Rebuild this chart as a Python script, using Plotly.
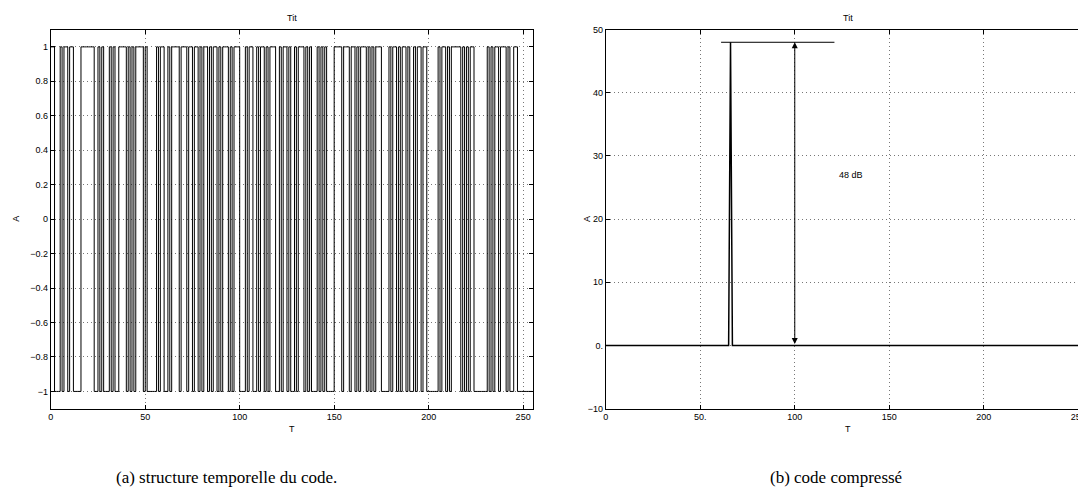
import plotly.graph_objects as go

# ---- data ----
# (a) binary code: run lengths of alternating levels, starting at +1
code_start = 1
code_runs = [2, 3, 1, 1, 2, 1, 2, 4, 7, 2, 1, 1, 1, 3, 1, 1, 1, 2, 4, 1, 1, 1, 1, 1, 4, 1, 1, 5,
             1, 1, 2, 2, 1, 1, 4, 1, 3, 1, 2, 1, 2, 1, 1, 1, 2, 1, 1, 1, 2, 1, 1, 1, 3, 1, 1, 1,
             3, 3, 1, 1, 2, 2, 1, 1, 2, 1, 1, 1, 3, 2, 1, 1, 2, 1, 1, 2, 1, 1, 3, 1, 1, 1, 1, 3,
             1, 1, 1, 1, 1, 4, 4, 1, 3, 1, 2, 1, 1, 1, 3, 1, 1, 1, 1, 1, 3, 4, 1, 1, 2, 1, 1, 1,
             2, 1, 1, 2, 1, 1, 2, 1, 2, 6, 1, 1, 2, 1, 1, 1, 5, 1, 1, 1, 1, 1, 2, 7, 1, 1, 1, 1,
             2, 1, 3, 1, 1, 2, 2, 8]

# (b) compressed code
comp_t = [0, 65, 66, 67, 255]
comp_a = [0, 0, 48, 0, 0]

left_xticks = [0, 50, 100, 150, 200, 250]
left_yticks = [-1, -0.8, -0.6, -0.4, -0.2, 0, 0.2, 0.4, 0.6, 0.8, 1]
right_xticks = [0, 50, 100, 150, 200, 250]
right_xtext = ["0", "50.", "100", "150", "200", "250"]
right_yticks = [-10, 0, 10, 20, 30, 40, 50]
right_ytext = ["\u221210", "0.", "10", "20", "30", "40", "50"]

peak_db = 48
arrow_t = 100
hline_t = [61, 121]

# expand run lengths into chips
chips = []
lvl = code_start
for r in code_runs:
    chips += [lvl] * r
    lvl = -lvl
code_t = list(range(len(chips) + 1))
code_a = chips + [chips[-1]]

fig = go.Figure()
fig.add_trace(go.Scatter(x=code_t, y=code_a, mode="lines", line=dict(color="black", width=1, shape="hv"),
                         xaxis="x", yaxis="y", showlegend=False, hoverinfo="skip"))
fig.add_trace(go.Scatter(x=comp_t, y=comp_a, mode="lines", line=dict(color="black", width=1.5),
                         xaxis="x2", yaxis="y2", showlegend=False, hoverinfo="skip"))
fig.add_trace(go.Scatter(x=hline_t, y=[peak_db, peak_db], mode="lines", line=dict(color="black", width=1),
                         xaxis="x2", yaxis="y2", showlegend=False, hoverinfo="skip"))

# the page body has an 8px margin: design in page coordinates, then shift
OFF = 8
W, H = 1086 - OFF, 500 - 2 * OFF


def px(v):
    return (v - OFF) / W


def py(v):
    return 1 - (v - OFF) / H


L1, R1 = 48, 533
L2 = 606.7
ppu = (R1 - L1) / 255.0
R2 = 1086
top, bot = 25, 412

font_ax = dict(family="Liberation Sans, Arial, sans-serif", size=9, color="black")
common = dict(showline=True, linecolor="black", linewidth=1, mirror="ticks", ticks="inside", ticklen=4,
              tickcolor="black", showgrid=True, gridcolor="#777777", griddash="1px,3px", gridwidth=1,
              zeroline=False, tickfont=font_ax, ticklabeloverflow="allow")

fig.update_layout(
    width=W, height=H, margin=dict(l=0, r=0, t=0, b=0),
    plot_bgcolor="white", paper_bgcolor="white",
    xaxis=dict(domain=[px(L1), px(R1)], range=[0, 255], tickvals=left_xticks, anchor="y", **common),
    yaxis=dict(domain=[py(bot), py(top)], range=[-1.1, 1.1], tickvals=left_yticks, anchor="x", **common),
    xaxis2=dict(domain=[px(L2), 1.0], range=[0, (R2 - L2) / ppu], tickvals=right_xticks,
                ticktext=right_xtext, anchor="y2", **common),
    yaxis2=dict(domain=[py(bot), py(top)], range=[-10, 50], tickvals=right_yticks,
                ticktext=right_ytext, anchor="x2", **common),
)

ann = []
for cx in [(L1 + R1) / 2, 850]:
    ann.append(dict(text="Tit", x=px(cx), y=py(13), xref="paper", yref="paper", showarrow=False,
                    font=font_ax, xanchor="center", yanchor="middle"))
    ann.append(dict(text="T", x=px(cx), y=py(433), xref="paper", yref="paper", showarrow=False,
                    font=font_ax, xanchor="center", yanchor="middle"))
for ax_x in [13, 587]:
    ann.append(dict(text="A", x=px(ax_x), y=py(218), xref="paper", yref="paper", showarrow=False,
                    font=font_ax, textangle=-90, xanchor="center", yanchor="middle"))
# double arrow
ann.append(dict(text="", x=arrow_t, y=peak_db, ax=arrow_t, ay=0, xref="x2", yref="y2", axref="x2", ayref="y2",
                showarrow=True, arrowhead=2, startarrowhead=2, arrowside="end+start", arrowsize=1.2,
                arrowwidth=1, arrowcolor="black"))
ann.append(dict(text="48 dB", x=130, y=27, xref="x2", yref="y2", showarrow=False, font=font_ax))
# captions
cap_font = dict(family="Liberation Serif, Times New Roman, serif", size=17, color="black")
ann.append(dict(text="(a) structure temporelle du code.", x=px(225), y=py(482), xref="paper", yref="paper",
                showarrow=False, font=cap_font, xanchor="center", yanchor="middle"))
ann.append(dict(text="(b) code compressé", x=px(838), y=py(482), xref="paper", yref="paper",
                showarrow=False, font=cap_font, xanchor="center", yanchor="middle"))
fig.update_layout(annotations=ann)

fig.write_html("out.html")
